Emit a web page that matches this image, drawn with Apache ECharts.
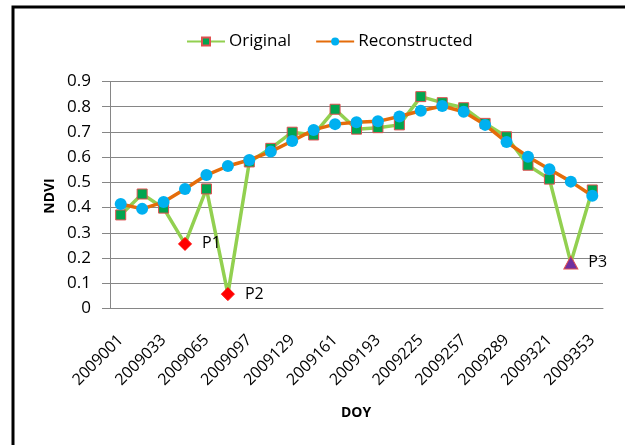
<!DOCTYPE html>
<html>
<head>
<meta charset="utf-8">
<script src="https://cdn.jsdelivr.net/npm/echarts@6/dist/echarts.min.js"></script>
<style>
html,body{margin:0;padding:0;background:#fff;}
#chart{width:625px;height:445px;}
</style>
</head>
<body>
<div id="chart"></div>
<script>
const categories = ['2009001','2009017','2009033','2009049','2009065','2009081','2009097','2009113','2009129','2009145','2009161','2009177','2009193','2009209','2009225','2009241','2009257','2009273','2009289','2009305','2009321','2009337','2009353'];
const original = [0.371,0.454,0.398,0.256,0.474,0.057,0.581,0.635,0.699,0.688,0.790,0.711,0.717,0.728,0.840,0.816,0.796,0.734,0.681,0.568,0.513,0.182,0.470];
const reconstructed = [0.414,0.395,0.422,0.474,0.529,0.565,0.589,0.622,0.664,0.708,0.731,0.738,0.742,0.761,0.784,0.803,0.780,0.728,0.660,0.602,0.552,0.503,0.447];
const seriesNames = ['Original','Reconstructed'];
const outliers = [{index:3,label:'P1',kind:'diamond'},{index:5,label:'P2',kind:'diamond'},{index:21,label:'P3',kind:'triangle'}];
const yTicks = [0,0.1,0.2,0.3,0.4,0.5,0.6,0.7,0.8,0.9];

const FONT = 'Open Sans';
const chart = echarts.init(document.getElementById('chart'), null, {renderer:'canvas'});

const origData = original.map((v,i)=>{
  const o = outliers.find(p=>p.index===i);
  if(!o) return v;
  if(o.kind==='diamond'){
    return {value:v, symbol:'diamond', symbolSize:13,
      itemStyle:{color:'#FF0000', borderColor:'#FF0000', borderWidth:1},
      label:{show:true, formatter:o.label, position:'right', distance:10, color:'#000', fontSize:16, fontFamily:FONT}};
  }
  return {value:v, symbol:'triangle', symbolSize:[14,13],
    itemStyle:{color:'#7030A0', borderColor:'#E05050', borderWidth:1},
    label:{show:true, formatter:o.label, position:'right', distance:10, color:'#000', fontSize:16, fontFamily:FONT}};
});

chart.setOption({
  animation:false,
  backgroundColor:'#fff',
  textStyle:{fontFamily:FONT},
  graphic:[
    {type:'rect', shape:{x:13, y:7, width:700, height:500}, style:{fill:'none', stroke:'#000', lineWidth:3}, silent:true, z:-1},
    {type:'text', x:356, y:413, style:{text:'DOY', font:'bold 14px "Open Sans"', fill:'#000', align:'center', verticalAlign:'middle'}},
    {type:'text', x:50, y:196, rotation:Math.PI/2, style:{text:'NDVI', font:'bold 14px "Open Sans"', fill:'#000', align:'center', verticalAlign:'middle'}}
  ],
  legend:{
    top:28, left:181,
    itemWidth:38, itemHeight:10, itemGap:24,
    textStyle:{fontSize:17, fontFamily:FONT, color:'#000', padding:[0,0,0,-1]},
    data:[
      {name:seriesNames[0]},
      {name:seriesNames[1]}
    ]
  },
  grid:{left:110, right:22, top:81.5, bottom:136.5, containLabel:false},
  xAxis:{
    type:'category', data:categories, boundaryGap:true,
    axisLine:{lineStyle:{color:'#868686', width:1}},
    axisTick:{show:false},
    axisLabel:{interval:1, rotate:45, fontSize:16, fontFamily:FONT, color:'#000', margin:29}
  },
  yAxis:{
    type:'value', min:0, max:0.9, interval:0.1,
    axisLine:{show:true, lineStyle:{color:'#868686'}},
    axisTick:{show:true, inside:false, length:8, lineStyle:{color:'#868686'}},
    splitLine:{lineStyle:{color:'#868686', width:1}},
    axisLabel:{fontSize:17, fontFamily:FONT, color:'#000', margin:19,
      formatter:v=>{const t=yTicks.find(x=>Math.abs(x-v)<1e-6); return t===0?'0':(t!==undefined?t.toFixed(1):'');}}
  },
  series:[
    {
      name:seriesNames[0], type:'line', data:origData,
      symbol:'rect', symbolSize:10, showAllSymbol:true,
      lineStyle:{color:'#92D050', width:3.5},
      itemStyle:{color:'#00A550', borderColor:'#E05050', borderWidth:1},
      z:2
    },
    {
      name:seriesNames[1], type:'line', data:reconstructed,
      symbol:'circle', symbolSize:12, showAllSymbol:true,
      lineStyle:{color:'#E46C0A', width:3.5},
      itemStyle:{color:'#00B0F0', borderColor:'#00B0F0', borderWidth:0},
      z:3
    }
  ]
});
</script>
</body>
</html>
